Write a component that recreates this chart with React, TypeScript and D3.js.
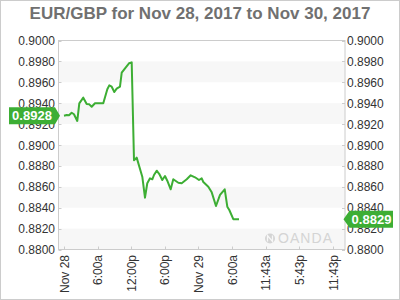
import React from "react";
import * as d3 from "d3";

const title = "EUR/GBP for Nov 28, 2017 to Nov 30, 2017";
const yTicks = [0.88, 0.882, 0.884, 0.886, 0.888, 0.89, 0.892, 0.894, 0.896, 0.898, 0.9];
const xTickHours = [0, 6, 12, 18, 24, 30, 36, 42, 48];
const xTickLabels = ["Nov 28", "6:00a", "12:00p", "6:00p", "Nov 29", "6:00a", "11:43a", "5:43p", "11:43p"];
const hours = [
  0, 0.48, 0.89, 1.37, 1.78, 2.37, 2.73, 3.44, 4.05, 4.51, 4.94, 5.53, 7.01, 7.73, 8.08, 8.51,
  8.98, 9.4, 9.99, 10.3, 10.89, 11.6, 12.08, 12.49, 12.97, 13.97, 14.45, 14.86, 15.35, 15.76,
  16.06, 16.54, 17.01, 17.54, 18.02, 18.43, 19.04, 19.5, 20.4, 21.0, 21.9, 22.61, 23.38, 24.09,
  24.57, 24.86, 25.75, 26.36, 27.12, 27.84, 28.68, 29.14, 29.5, 30.21, 31.23,
];
const values = [
  0.8928, 0.89287, 0.89284, 0.89309, 0.89294, 0.8923, 0.89399, 0.89453, 0.89392, 0.89389,
  0.89366, 0.89399, 0.89399, 0.89533, 0.89571, 0.89558, 0.89507, 0.89539, 0.89558, 0.89692,
  0.89734, 0.89782, 0.89791, 0.88855, 0.88879, 0.88697, 0.88496, 0.88634, 0.88681, 0.88672,
  0.88713, 0.88754, 0.88722, 0.88665, 0.88703, 0.88658, 0.88576, 0.88672, 0.88639, 0.88634,
  0.88672, 0.8871, 0.88691, 0.88665, 0.88681, 0.88646, 0.88601, 0.88547, 0.88416, 0.88522,
  0.88576, 0.8841, 0.88378, 0.8829, 0.8829,
];
const openLabel = "0.8928";
const closeLabel = "0.8829";
const openValue = 0.8928;
const closeValue = 0.8829;

const GREEN = "#3dae34";
const FONT = "'Liberation Sans', Arial, sans-serif";

export default function App() {
  const left = 58.5, right = 345, top = 40.5, bottom = 249.5;
  const x0 = 64, x48 = 333;
  const pxPerH = (x48 - x0) / 48;
  const x = d3.scaleLinear()
    .domain([(left - x0) / pxPerH, (right - x0) / pxPerH])
    .range([left, right]);
  const y = d3.scaleLinear().domain([0.88, 0.9]).range([bottom, top]);
  const data = hours.map((h, i) => [h, values[i]] as [number, number]);
  const line = d3.line<[number, number]>().x(d => x(d[0])).y(d => y(d[1]));

  const bands: number[] = [];
  for (let i = 0; i < yTicks.length - 1; i += 2) bands.push(yTicks[i]);

  const yo = y(openValue);
  const yc = y(closeValue);

  return (
    <svg width={400} height={300} style={{ position: "absolute", left: 0, top: 0 }}>
      <rect x={0.5} y={0.5} width={399} height={299} fill="#fff" stroke="#cccccc" />
      <text x={200} y={19} textAnchor="middle" fontFamily={FONT} fontWeight="bold" fontSize={17} fill="#707070">
        {title}
      </text>
      {bands.map((b, i) => (
        <rect key={i} x={left} y={y(b + 0.002)} width={right - left} height={y(b) - y(b + 0.002)} fill="#f7f7f7" />
      ))}
      <text x={332} y={243} textAnchor="end" fontFamily={FONT} fontSize={14} fill="#d4d4d4" textLength={54}>
        OANDA
      </text>
      <circle cx={270} cy={238.5} r={5} fill="#d4d4d4" />
      <path d="M267.5,241.5 L267.5,235.5 L272.5,241.5 L272.5,235.5" stroke="#f7f7f7" strokeWidth={1.3} fill="none" />
      <rect x={left} y={top} width={right - left} height={bottom - top} fill="none" stroke="#cccccc" />
      {yTicks.map((t, i) => (
        <g key={i}>
          <line x1={left} x2={left + 3} y1={Math.round(y(t)) + 0.5} y2={Math.round(y(t)) + 0.5} stroke="#cccccc" />
          <line x1={right - 3} x2={right} y1={Math.round(y(t)) + 0.5} y2={Math.round(y(t)) + 0.5} stroke="#cccccc" />
          <text x={55} y={y(t) + 4.5} textAnchor="end" fontFamily={FONT} fontSize={12} fill="#333">
            {t.toFixed(4)}
          </text>
          <text x={347} y={y(t) + 4.5} textAnchor="start" fontFamily={FONT} fontSize={12} fill="#333">
            {t.toFixed(4)}
          </text>
        </g>
      ))}
      {xTickHours.map((h, i) => (
        <g key={i}>
          <line x1={Math.round(x(h)) + 0.5} x2={Math.round(x(h)) + 0.5} y1={bottom - 3} y2={bottom} stroke="#cccccc" />
          <text
            transform={`translate(${x(h) + 4.5},${255}) rotate(-90)`}
            textAnchor="end"
            fontFamily={FONT}
            fontSize={12}
            fill="#333"
          >
            {xTickLabels[i]}
          </text>
        </g>
      ))}
      <path d={line(data) || ""} fill="none" stroke={GREEN} strokeWidth={2} strokeLinejoin="round" />
      <path d={`M9,${yo - 8.5} L55,${yo - 8.5} L60,${yo} L55,${yo + 8.5} L9,${yo + 8.5} Z`} fill={GREEN} />
      <text x={32} y={yo + 4.5} textAnchor="middle" fontFamily={FONT} fontWeight="bold" fontSize={13} fill="#fff">
        {openLabel}
      </text>
      <path d={`M343.5,${yc} L349.5,${yc - 8.5} L393,${yc - 8.5} L393,${yc + 8.5} L349.5,${yc + 8.5} Z`} fill={GREEN} />
      <text x={371.5} y={yc + 4.5} textAnchor="middle" fontFamily={FONT} fontWeight="bold" fontSize={13} fill="#fff">
        {closeLabel}
      </text>
    </svg>
  );
}
